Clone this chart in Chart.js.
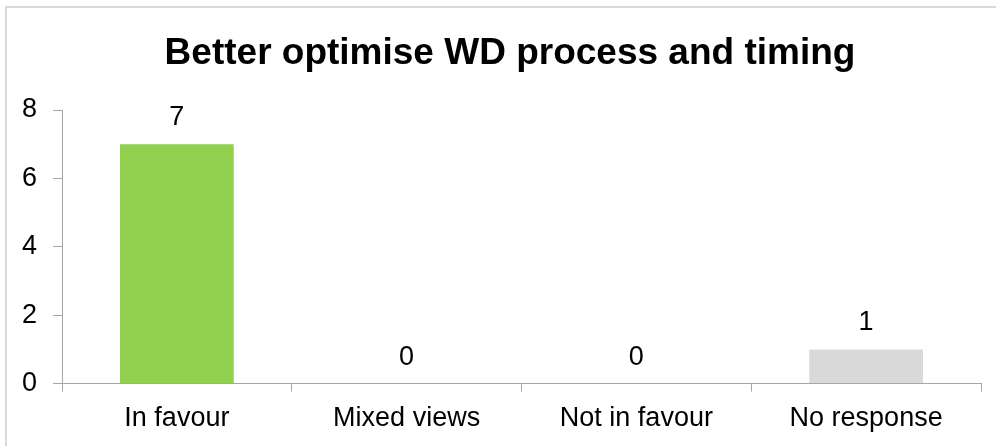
<!DOCTYPE html>
<html lang="en">
<head>
    <meta charset="UTF-8">
    <title>Chart</title>
    <script src="https://cdn.jsdelivr.net/npm/chart.js@4.4.1/dist/chart.umd.min.js"></script>
    <style>
        body { margin: 0; background: #fff; }
        #wrap { position: absolute; left: 0; top: 0; width: 996px; height: 446px; }
        #frame { position: absolute; left: 5px; top: 6px; width: 991px; height: 440px; box-sizing: border-box;
                 border-left: 2px solid #d9d9d9; border-top: 2px solid #d9d9d9; pointer-events: none; }
    </style>
</head>
<body>
    <div id="wrap"><canvas id="myChart"></canvas></div>
    <div id="frame"></div>

    <script>
    const chartTitle = 'Better optimise WD process and timing';
    const categories = ['In favour', 'Mixed views', 'Not in favour', 'No response'];
    const responses = [7, 0, 0, 1];
    const barColors = ['#92d050', '#92d050', '#92d050', '#d9d9d9'];
    const yTicks = [0, 2, 4, 6, 8];

    const FONT = "'Liberation Sans', Arial, sans-serif";
    const AXIS = '#a6a6a6';

    // Title is centred on the whole (cropped) frame, not on the canvas, so draw it here
    const frameTitle = {
        id: 'frameTitle',
        afterDraw(chart) {
            const ctx = chart.ctx;
            ctx.save();
            ctx.font = 'bold 37px ' + FONT;
            ctx.fillStyle = '#000';
            ctx.textAlign = 'center';
            ctx.textBaseline = 'alphabetic';
            ctx.fillText(chartTitle, 510, 64);
            ctx.restore();
        }
    };

    // Value labels above each bar
    const valueLabels = {
        id: 'valueLabels',
        afterDatasetsDraw(chart) {
            const ctx = chart.ctx;
            const meta = chart.getDatasetMeta(0);
            ctx.save();
            ctx.font = '27px ' + FONT;
            ctx.fillStyle = '#000';
            ctx.textAlign = 'center';
            ctx.textBaseline = 'alphabetic';
            meta.data.forEach((bar, i) => {
                ctx.fillText(String(responses[i]), bar.x, bar.y - 19);
            });
            ctx.restore();
        }
    };

    const ctx = document.getElementById('myChart').getContext('2d');
    const myChart = new Chart(ctx, {
        type: 'bar',
        data: {
            labels: categories,
            datasets: [{
                data: responses,
                backgroundColor: barColors,
                borderWidth: 0,
                barPercentage: 1,
                categoryPercentage: 0.495
            }]
        },
        options: {
            responsive: true,
            maintainAspectRatio: false,
            animation: false,
            devicePixelRatio: 1,
            layout: { padding: { top: 110, right: 15, bottom: 0, left: 0 } },
            plugins: {
                legend: { display: false },
                tooltip: { enabled: false },
                title: { display: false }
            },
            scales: {
                x: {
                    grid: { display: true, drawOnChartArea: false, drawTicks: true, tickLength: 8, color: AXIS, offset: true },
                    border: { display: true, color: AXIS, width: 1 },
                    ticks: { color: '#000', font: { family: FONT, size: 27 }, padding: 11, maxRotation: 0 }
                },
                y: {
                    min: 0,
                    max: 8,
                    afterBuildTicks(scale) { scale.ticks = yTicks.map(v => ({ value: v })); },
                    afterFit(scale) { scale.width = 62; },
                    grid: { display: true, drawOnChartArea: false, drawTicks: true, tickLength: 9, color: AXIS },
                    border: { display: true, color: AXIS, width: 1 },
                    ticks: { color: '#000', font: { family: FONT, size: 27 }, padding: 16 }
                }
            }
        },
        plugins: [valueLabels, frameTitle]
    });
    </script>
</body>
</html>
